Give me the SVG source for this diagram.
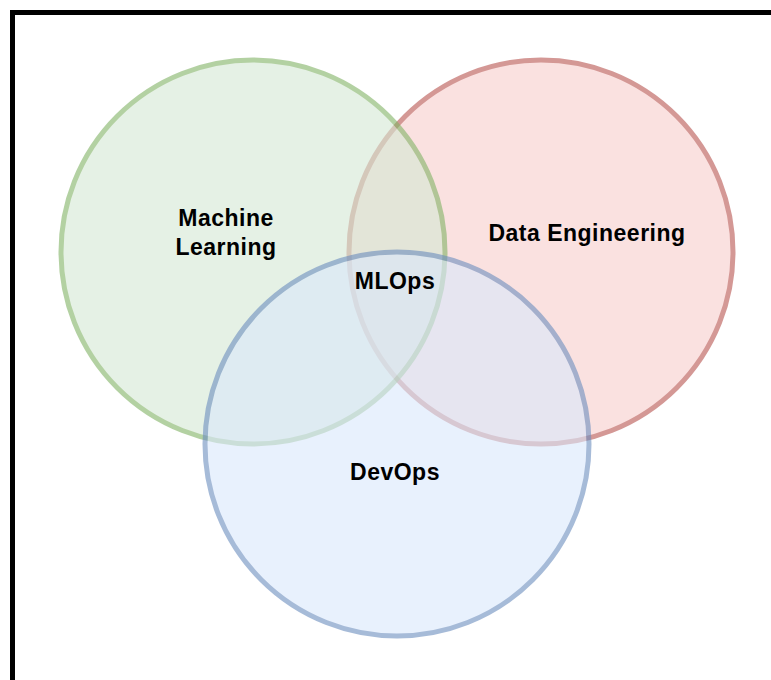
<svg xmlns="http://www.w3.org/2000/svg" width="771" height="680" viewBox="0 0 771 680">
  <style>
    .set { stroke-width: 5; opacity: 0.6; }
    .ml { fill: #d5e8d4; stroke: #82b366; }
    .de { fill: #f8cecc; stroke: #b85450; }
    .dv { fill: #dae8fc; stroke: #6c8ebf; }
    .lbl { font-family: "Liberation Sans", Arial, sans-serif; font-weight: bold; font-size: 23px; letter-spacing: 0.5px; fill: #000; text-anchor: middle; }
  </style>
  <rect width="771" height="680" fill="#fff"/>
  <!-- frame -->
  <rect x="12.5" y="12.5" width="800" height="720" fill="none" stroke="#000" stroke-width="5"/>
  <g id="data-engineering">
    <circle class="set de" cx="541" cy="252" r="192"/>
    <text class="lbl" x="587" y="241">Data Engineering</text>
  </g>
  <g id="machine-learning">
    <circle class="set ml" cx="253" cy="252" r="192"/>
    <text class="lbl" x="226" y="226">Machine</text>
    <text class="lbl" x="226" y="255">Learning</text>
  </g>
  <g id="devops">
    <circle class="set dv" cx="397" cy="444" r="192"/>
    <text class="lbl" x="395" y="480">DevOps</text>
  </g>
  <g id="mlops">
    <text class="lbl" x="395" y="289">MLOps</text>
  </g>
  <g id="connectors"></g>
</svg>
